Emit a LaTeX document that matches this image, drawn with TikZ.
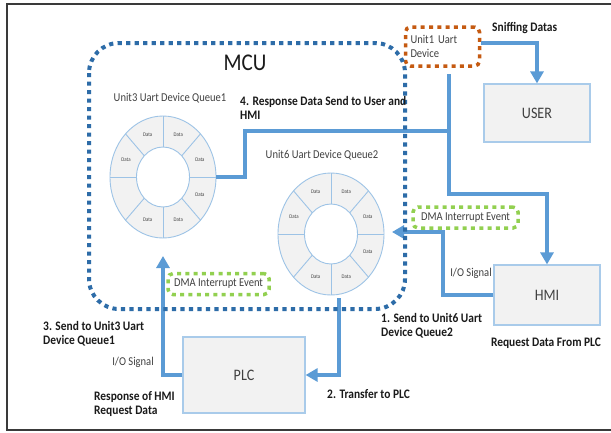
\documentclass[tikz,border=0pt]{standalone}
\usepackage{fontspec}
\setmainfont{Carlito}[FakeStretch=0.88]
\usetikzlibrary{arrows.meta,calc}
\definecolor{mcublue}{HTML}{2D6CA8}
\definecolor{arrowblue}{HTML}{5B9BD5}
\definecolor{dotorange}{HTML}{C55A11}
\definecolor{dotgreen}{HTML}{92D050}
\definecolor{ringblue}{HTML}{9DC3E6}
\definecolor{boxline}{HTML}{A9CBEA}
\definecolor{boxfill}{HTML}{F2F2F2}
\definecolor{txtgray}{HTML}{404040}
\definecolor{txtdark}{HTML}{1A1A1A}
\definecolor{framecol}{HTML}{3A3A3A}
\tikzset{
  blueline/.style={draw=arrowblue, line width=4pt},
  bluearrow/.style={blueline, -{Triangle[width=13pt,length=12pt]}},
  mcudots/.style={draw=mcublue, line width=4pt, dash pattern=on 4.2pt off 4.3pt, rounded corners=30pt},
  orangedots/.style={draw=dotorange, line width=3.5pt, dash pattern=on 4pt off 4.3pt, rounded corners=5pt},
  greendots/.style={draw=dotgreen, line width=3.5pt, dash pattern=on 4pt off 4.3pt, rounded corners=5pt},
  devbox/.style={draw=boxline, line width=1.2pt, fill=boxfill, text=txtgray, font=\fontsize{16}{18}\selectfont},
  ringline/.style={draw=ringblue, line width=0.9pt},
  lab/.style={inner sep=0pt, text=txtgray, font=\fontsize{12}{14}\selectfont},
  blab/.style={inner sep=0pt, text=txtdark, align=left, font=\fontsize{13}{14}\selectfont\bfseries},
  datalab/.style={inner sep=0pt, text=txtgray, font=\fontsize{5.5}{6}\selectfont},
}
\newcommand\myring[3]{%
  \coordinate (#3) at (#1,#2);
  \fill[boxfill, even odd rule] (#3) ellipse [x radius=53, y radius=61] (#3) ellipse [x radius=26.5, y radius=30];
  \draw[ringline] (#3) ellipse [x radius=53, y radius=61];
  \draw[ringline] (#3) ellipse [x radius=26.5, y radius=30];
  \foreach \a in {0,45,...,315}
    \draw[ringline] ($(#3)+({26.5*cos(\a)},{30*sin(\a)})$) -- ($(#3)+({53*cos(\a)},{61*sin(\a)})$);
  \foreach \a [count=\i] in {22.5,67.5,112.5,202.5,247.5,292.5,337.5}
    \node[datalab] (#3d\i) at ($(#3)+({40*cos(\a)},{46*sin(\a)})$) {Data};
}
\begin{document}
\begin{tikzpicture}[x=1pt,y=-1pt]
\useasboundingbox (0,0) rectangle (611,432);
\fill[white] (0,0) rectangle (611,432);
% outer frame
\draw[framecol, line width=2pt] (612,3.5) -- (6.5,3.5) -- (6.5,429.5) -- (612,429.5);

% rings
\myring{163}{177}{ra}
\myring{331}{234}{rb}

% device boxes
\node[devbox, minimum width=106pt, minimum height=58pt] (user) at (537,113) {USER};
\node[devbox, minimum width=106pt, minimum height=60pt] (hmi) at (547,295) {HMI};
\node[devbox, minimum width=122pt, minimum height=76pt] (plc) at (244,375) {PLC};

% connector coordinates
\coordinate (u1out) at (449,74);
\coordinate (j1) at (449,194);
\coordinate (j2) at (449,131);
\coordinate (k1) at (245,131);
\coordinate (rae) at (216,177);
\coordinate (k2) at (443,295);
\coordinate (rbe) at (392,232);
\coordinate (rbs) at (339,298);
\coordinate (ras) at (163,256);

% Unit1 box
\node[orangedots, text width=64pt, align=left, inner xsep=5pt, minimum height=39pt, text=txtgray,
      font=\fontsize{12}{14}\selectfont] (u1) at (442.5,46.5) {Unit1 Uart\\Device};

% connectors
\draw[bluearrow] ([yshift=3.5pt]u1.east) -| (user.north);
\draw[bluearrow] (u1out) -- (j1) -| (hmi.north);
\draw[blueline] (j2) -- (k1) |- (rae);
\draw[bluearrow] (hmi.west) -- (k2) |- (rbe);
\draw[bluearrow] (rbs) |- (plc.east);
\draw[bluearrow] (plc.west) -| (ras);

% MCU border
\draw[mcudots] (89,43) rectangle (405,309);

% DMA boxes
\node[greendots, lab, minimum width=105pt, minimum height=21pt] (dma1) at (465.5,217.5) {DMA Interrupt Event};
\node[greendots, lab, minimum width=101pt, minimum height=21pt] (dma2) at (218.5,284) {DMA Interrupt Event};

% labels
\node[inner sep=0pt, text=txtdark, font=\fontsize{24}{26}\selectfont] (mcu) at (245,63) {MCU};
\node[lab] (q1) at (170,98) {Unit3 Uart Device Queue1};
\node[lab] (q2) at (322,155) {Unit6 Uart Device Queue2};
\node[blab, anchor=west] (s4) at (240,108) {4. Response Data Send to User and\\HMI};
\node[blab, anchor=west] (sniff) at (492,28) {Sniffing Datas};
\node[blab] (req) at (546,343) {Request Data From PLC};
\node[lab] (io1) at (471,273) {I/O Signal};
\node[blab, anchor=west] (s1) at (381,326) {1. Send to Unit6 Uart\\Device Queue2};
\node[blab, anchor=west] (s2) at (327,394) {2. Transfer to PLC};
\node[blab, anchor=west] (s3) at (43,334) {3. Send to Unit3 Uart\\Device Queue1};
\node[blab, anchor=west] (rh) at (94,404) {Response of HMI\\Request Data};
\node[lab] (io2) at (133,362) {I/O Signal};
\end{tikzpicture}
\end{document}
